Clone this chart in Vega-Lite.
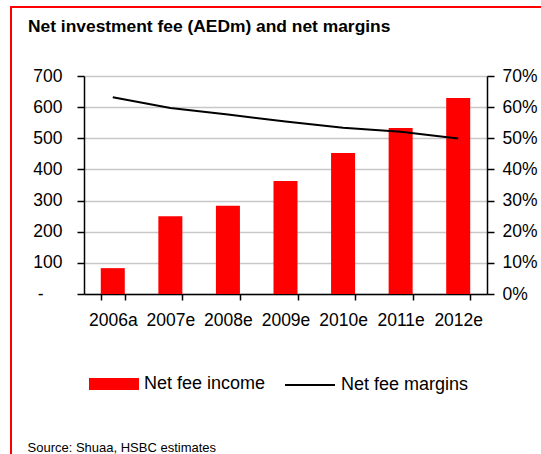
{
  "$schema": "https://vega.github.io/schema/vega-lite/v6.json",
  "autosize": "none",
  "width": 403,
  "height": 218,
  "padding": {"left": 84, "top": 76, "right": 54, "bottom": 160},
  "background": "#ffffff",
  "title": {
    "text": "Net investment fee (AEDm) and net margins",
    "anchor": "start",
    "frame": "group",
    "dx": -56,
    "dy": 63,
    "baseline": "alphabetic",
    "offset": 20,
    "font": "Liberation Sans",
    "fontSize": 17.4,
    "fontWeight": "bold",
    "color": "#000000"
  },
  "data": {
    "values": [
      {"year": "2006a", "Net fee income": 83, "Net fee margins": 0.632},
      {"year": "2007e", "Net fee income": 250, "Net fee margins": 0.597},
      {"year": "2008e", "Net fee income": 283, "Net fee margins": 0.576},
      {"year": "2009e", "Net fee income": 363, "Net fee margins": 0.554},
      {"year": "2010e", "Net fee income": 453, "Net fee margins": 0.534},
      {"year": "2011e", "Net fee income": 533, "Net fee margins": 0.521},
      {"year": "2012e", "Net fee income": 629, "Net fee margins": 0.499}
    ]
  },
  "transform": [{"fold": ["Net fee income", "Net fee margins"], "as": ["series", "value"]}],
  "encoding": {
    "x": {
      "field": "year",
      "type": "ordinal",
      "sort": null,
      "scale": {"paddingInner": 0.583, "paddingOuter": 0.2915},
      "axis": {
        "title": "Source: Shuaa, HSBC estimates",
        "titleX": -57,
        "titleY": 157,
        "titleAlign": "left",
        "titleBaseline": "alphabetic",
        "titleFont": "Liberation Sans",
        "titleFontSize": 13,
        "titleFontWeight": "normal",
        "titleColor": "#000000",
        "labelAngle": 0,
        "tickBand": "extent",
        "tickSize": 6,
        "labelPadding": 11,
        "grid": false
      }
    }
  },
  "layer": [
    {
      "transform": [{"filter": "datum.series === 'Net fee income'"}],
      "mark": {"type": "bar"},
      "encoding": {
        "y": {
          "field": "value",
          "type": "quantitative",
          "scale": {"domain": [0, 700], "nice": false},
          "axis": {
            "orient": "left",
            "title": null,
            "values": [0, 100, 200, 300, 400, 500, 600, 700],
            "labelExpr": "datum.value === 0 ? '-' : datum.label",
            "labelPadding": {"condition": {"test": "datum.value === 0", "value": 34}, "value": 15},
            "grid": true,
            "gridColor": "#c8c8c8",
            "gridWidth": 1.5,
            "tickSize": 7
          }
        },
        "fill": {
          "field": "series",
          "type": "nominal",
          "scale": {"range": ["#ff0000"]},
          "legend": {
            "orient": "none",
            "legendX": 5,
            "legendY": 283,
            "title": null,
            "padding": 0,
            "symbolType": "M-1,-0.24H1V0.24H-1Z",
            "symbolSize": 2500,
            "symbolStrokeWidth": 0,
            "labelOffset": 5,
            "labelFontSize": 18
          }
        },
        "opacity": {
          "field": "year",
          "type": "ordinal",
          "scale": {"range": [1, 1]},
          "legend": {
            "orient": "none",
            "legendX": -73,
            "legendY": -69,
            "title": null,
            "padding": 280,
            "strokeColor": "#ff0000",
            "fillColor": null,
            "symbolSize": 0,
            "symbolStrokeWidth": 0,
            "symbolOpacity": 0,
            "labelExpr": "''",
            "labelOpacity": 0
          }
        }
      }
    },
    {
      "transform": [{"filter": "datum.series === 'Net fee margins'"}],
      "mark": {"type": "line", "strokeWidth": 2},
      "encoding": {
        "y": {
          "field": "value",
          "type": "quantitative",
          "scale": {"domain": [0, 0.7], "nice": false},
          "axis": {
            "orient": "right",
            "title": null,
            "format": ".0%",
            "values": [0, 0.1, 0.2, 0.3, 0.4, 0.5, 0.6, 0.7],
            "grid": false,
            "tickSize": 7,
            "labelPadding": 8
          }
        },
        "stroke": {
          "field": "series",
          "type": "nominal",
          "scale": {"range": ["#000000"]},
          "legend": {
            "orient": "none",
            "legendX": 200,
            "legendY": 283,
            "title": null,
            "padding": 0,
            "symbolType": "stroke",
            "symbolSize": 2500,
            "symbolStrokeWidth": 2,
            "labelOffset": 5,
            "labelFontSize": 18
          }
        }
      }
    }
  ],
  "resolve": {"scale": {"y": "independent"}},
  "config": {
    "view": {"stroke": null},
    "axis": {
      "labelFont": "Liberation Sans",
      "labelFontSize": 17.5,
      "labelColor": "#000000",
      "domainColor": "#000000",
      "domainWidth": 1.5,
      "tickColor": "#000000",
      "tickWidth": 1.5
    },
    "legend": {
      "labelFont": "Liberation Sans",
      "labelColor": "#000000",
      "strokeWidth": 2
    }
  }
}
